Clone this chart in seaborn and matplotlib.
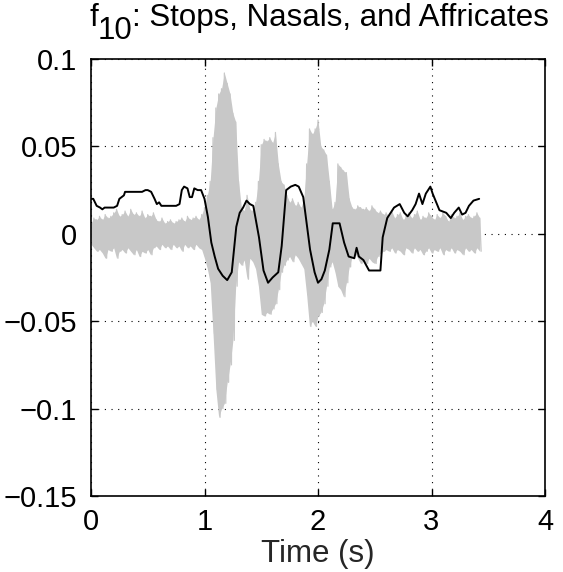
import numpy as np
import pandas as pd
import matplotlib
matplotlib.use("Agg")
import matplotlib.pyplot as plt
import seaborn as sns

# ---------------- data ----------------
# gray waveform: upper / lower extremes read every 0.025 s
wave_step = 0.025
wave_upper = [
    0.006, 0.009, 0.008, 0.010, 0.008, 0.011, 0.009, 0.010, 0.012, 0.014,
    0.010, 0.011, 0.013, 0.010, 0.014, 0.011, 0.012, 0.010, 0.013, 0.009,
    0.011, 0.010, 0.012, 0.008, 0.007, 0.009, 0.006, 0.007, 0.008, 0.006,
    0.007, 0.008, 0.009, 0.007, 0.010, 0.008, 0.009, 0.010, 0.008, 0.011,
    0.015, 0.022, 0.030, 0.055, 0.072, 0.080, 0.083, 0.092, 0.086, 0.080,
    0.069, 0.064, 0.030, 0.015, 0.013, 0.022, 0.014, 0.013, 0.018, 0.030,
    0.051, 0.054, 0.053, 0.055, 0.052, 0.058, 0.040, 0.030, 0.028, 0.022,
    0.018, 0.020, 0.016, 0.018, 0.015, 0.020, 0.040, 0.060, 0.057, 0.060,
    0.065, 0.050, 0.048, 0.045, 0.030, 0.014, 0.018, 0.040, 0.038, 0.036,
    0.035, 0.020, 0.015, 0.014, 0.016, 0.015, 0.014, 0.015, 0.013, 0.016,
    0.014, 0.012, 0.013, 0.011,
    0.012, 0.010, 0.013, 0.009, 0.011, 0.012, 0.008, 0.010, 0.012, 0.009,
    0.011, 0.013, 0.008, 0.010, 0.009, 0.012, 0.010, 0.008, 0.011, 0.009,
    0.012, 0.010, 0.007, 0.011, 0.009, 0.010, 0.012, 0.008, 0.010, 0.011,
    0.009, 0.010, 0.012, 0.009,
]
wave_lower = [
    -0.006, -0.008, -0.010, -0.009, -0.011, -0.014, -0.009, -0.010, -0.008, -0.014,
    -0.010, -0.009, -0.011, -0.008, -0.010, -0.012, -0.009, -0.013, -0.010, -0.011,
    -0.009, -0.012, -0.008, -0.007, -0.009, -0.006, -0.008, -0.007, -0.009, -0.006,
    -0.008, -0.007, -0.010, -0.006, -0.008, -0.007, -0.009, -0.006, -0.008, -0.009,
    -0.014, -0.020, -0.028, -0.057, -0.089, -0.105, -0.100, -0.097, -0.085, -0.075,
    -0.061, -0.030, -0.016, -0.018, -0.015, -0.026, -0.014, -0.016, -0.020, -0.030,
    -0.046, -0.047, -0.045, -0.046, -0.043, -0.040, -0.032, -0.022, -0.018, -0.015,
    -0.013, -0.016, -0.012, -0.014, -0.017, -0.020, -0.035, -0.053, -0.050, -0.053,
    -0.047, -0.045, -0.040, -0.030, -0.019, -0.016, -0.022, -0.030, -0.032, -0.036,
    -0.028, -0.019, -0.013, -0.011, -0.014, -0.017, -0.015, -0.017, -0.014, -0.016,
    -0.017, -0.013, -0.011, -0.010,
    -0.009, -0.010, -0.008, -0.011, -0.009, -0.010, -0.012, -0.008, -0.009, -0.011,
    -0.008, -0.010, -0.009, -0.012, -0.010, -0.008, -0.011, -0.009, -0.010, -0.008,
    -0.012, -0.009, -0.010, -0.008, -0.011, -0.009, -0.010, -0.012, -0.008, -0.010,
    -0.009, -0.011, -0.008, -0.010,
]
wave_time = np.arange(len(wave_upper)) * wave_step

# black feature curve
feat_time = [
    0.000, 0.020, 0.050, 0.080, 0.100, 0.120, 0.150, 0.200, 0.230, 0.250,
    0.270, 0.290, 0.300, 0.350, 0.400, 0.450, 0.480, 0.500, 0.530, 0.560,
    0.580, 0.600, 0.620, 0.650, 0.700, 0.750, 0.780, 0.800, 0.820, 0.850,
    0.870, 0.890, 0.910, 0.940, 0.970, 1.000, 1.030, 1.060, 1.090, 1.120,
    1.160, 1.200, 1.240, 1.280, 1.310, 1.340, 1.370, 1.400, 1.430, 1.480,
    1.520, 1.560, 1.600, 1.650, 1.680, 1.720, 1.760, 1.800, 1.830, 1.870,
    1.930, 1.970, 2.000, 2.030, 2.060, 2.100, 2.130, 2.190, 2.230, 2.270,
    2.320, 2.340, 2.360, 2.400, 2.450, 2.520, 2.550, 2.570, 2.610, 2.670,
    2.720, 2.760, 2.790, 2.830, 2.860, 2.890, 2.920, 2.950, 2.990, 3.010,
    3.070, 3.130, 3.170, 3.200, 3.240, 3.270, 3.300, 3.330, 3.370, 3.420,
]
feat_value = [
    0.020, 0.020, 0.016, 0.015, 0.014, 0.015, 0.015, 0.015, 0.016, 0.020,
    0.021, 0.022, 0.024, 0.024, 0.024, 0.024, 0.025, 0.025, 0.024, 0.020,
    0.017, 0.018, 0.016, 0.016, 0.016, 0.016, 0.017, 0.025, 0.027, 0.026,
    0.021, 0.021, 0.026, 0.025, 0.025, 0.020, 0.0096, -0.005, -0.013, -0.020,
    -0.024, -0.0265, -0.022, 0.004, 0.012, 0.015, 0.019, 0.017, 0.016, -0.002,
    -0.021, -0.028, -0.025, -0.022, -0.007, 0.025, 0.027, 0.028, 0.027, 0.021,
    -0.009, -0.022, -0.028, -0.026, -0.021, -0.009, 0.006, 0.006, -0.005, -0.013,
    -0.014, -0.008, -0.013, -0.015, -0.021, -0.021, -0.021, -0.002, 0.009, 0.015,
    0.017, 0.012, 0.010, 0.0135, 0.017, 0.023, 0.017, 0.023, 0.027, 0.023,
    0.0135, 0.012, 0.009, 0.012, 0.015, 0.011, 0.012, 0.016, 0.019, 0.020,
]

x_ticks = [0, 1, 2, 3, 4]
y_ticks = [-0.15, -0.1, -0.05, 0, 0.05, 0.1]
y_tick_labels = ["\u22120.15", "\u22120.1", "\u22120.05", "0", "0.05", "0.1"]
title_parts = ["f", "10", ": Stops, Nasals, and Affricates"]
x_label = "Time (s)"

# ---------------- style ----------------
sns.set_style("ticks")
plt.rcParams["font.family"] = ["Liberation Sans", "DejaVu Sans"]

W, H = 563, 572
fig = plt.figure(figsize=(W / 100, H / 100), dpi=100)
ax = fig.add_axes([91 / W, 1 - 496 / H, 454 / W, 437 / H])

wave_df = pd.DataFrame({"t": wave_time, "up": wave_upper, "lo": wave_lower})
zz_t = np.empty(2 * len(wave_df))
zz_v = np.empty(2 * len(wave_df))
zz_t[0::2] = wave_df["t"].values
zz_t[1::2] = wave_df["t"].values + wave_step / 2
zz_v[0::2] = wave_df["up"].values
zz_v[1::2] = wave_df["lo"].values
zz_df = pd.DataFrame({"t": zz_t, "v": zz_v})
feat_df = pd.DataFrame({"t": feat_time, "v": feat_value})

ax.fill_between(wave_df["t"], wave_df["lo"], wave_df["up"],
                color="#c8c8c8", linewidth=0, zorder=2)
sns.lineplot(data=zz_df, x="t", y="v", color="#c8c8c8", linewidth=0.9,
             ax=ax, zorder=2, estimator=None, sort=False)
sns.lineplot(data=feat_df, x="t", y="v", color="black", linewidth=1.4,
             ax=ax, zorder=3, estimator=None, sort=False)

ax.set_xlim(0, 4)
ax.set_ylim(-0.15, 0.1)
ax.set_xticks(x_ticks)
ax.set_xticklabels([str(v) for v in x_ticks])
ax.set_yticks(y_ticks)
ax.set_yticklabels(y_tick_labels)
ax.grid(True, linestyle=(0, (1, 5)), color="black", linewidth=0.8, zorder=1)
ax.set_axisbelow(True)
ax.tick_params(direction="in", length=5, width=1, top=True, right=True,
               labelsize=21, colors="black")
ax.tick_params(axis="x", pad=9)
ax.tick_params(axis="y", pad=10)
for s in ax.spines.values():
    s.set_visible(True)
    s.set_color("black")
    s.set_linewidth(1.2)

ax.set_xlabel(x_label, fontsize=22.5, labelpad=2)
ax.set_ylabel("")

# title with a full-size, lowered subscript (MATLAB tex style)
renderer = fig.canvas.get_renderer()
title_size = 22.5
x_px = 89.0
base_main = H - 26.0
base_sub = H - 39.0
for i, part in enumerate(title_parts):
    yb = base_sub if i == 1 else base_main
    t = fig.text(x_px / W, yb / H, part, fontsize=title_size,
                 ha="left", va="baseline", color="black")
    bb = t.get_window_extent(renderer=renderer)
    x_px = bb.x1

fig.savefig("out.png", dpi=100, facecolor="white")
